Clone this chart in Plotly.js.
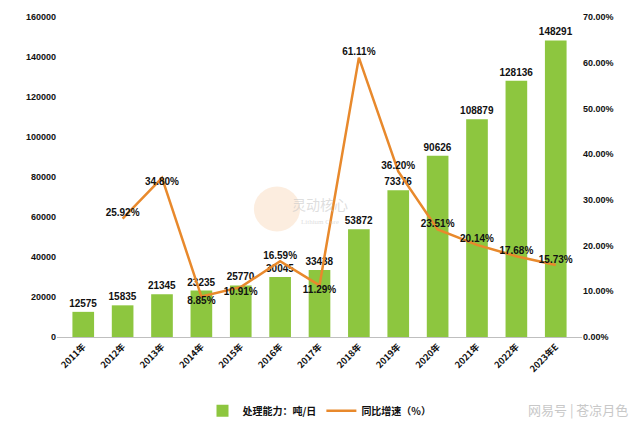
<!DOCTYPE html>
<html>
<head>
<meta charset="utf-8">
<script src="https://cdn.plot.ly/plotly-3.0.1.min.js"></script>
<style>html,body{margin:0;padding:0;background:#fff;}#chart{width:640px;height:431px;}</style>
</head>
<body>
<div id="chart"></div>
<script>
const years = ["2011年","2012年","2013年","2014年","2015年","2016年","2017年","2018年","2019年","2020年","2021年","2022年","2023年E"];
const capacity = [12575, 15835, 21345, 23235, 25770, 30045, 33438, 53872, 73376, 90626, 108879, 128136, 148291];
const growth = [null, 25.92, 34.80, 8.85, 10.91, 16.59, 11.29, 61.11, 36.20, 23.51, 20.14, 17.68, 15.73];
const growthLabelPos = ["top center","top center","bottom center","bottom center","bottom center","top center","bottom center","top center","top center","top center","top center","top center","top center"];
const leftTicks = [0, 20000, 40000, 60000, 80000, 100000, 120000, 140000, 160000];
const rightTicks = [0, 10, 20, 30, 40, 50, 60, 70];

const fam = "Liberation Sans, Arial, Noto Sans CJK SC, sans-serif";
const cjk = "Noto Sans CJK SC, Liberation Sans, sans-serif";

const bars = {
  type: 'bar', x: years, y: capacity, name: '处理能力：吨/日',
  marker: {color: '#8DC63F'}, width: 0.55,
  text: capacity.map(String), textposition: 'outside', cliponaxis: false, constraintext: 'none',
  textfont: {family: fam, size: 10, color: '#111', weight: 'bold'},
  hoverinfo: 'skip'
};
const line = {
  type: 'scatter', mode: 'lines+text', x: years, y: growth, yaxis: 'y2', name: '同比增速（%）',
  line: {color: '#E8892C', width: 2.5}, connectgaps: false,
  text: growth.map(v => v === null ? '' : v.toFixed(2) + '%'),
  textposition: growthLabelPos, cliponaxis: false,
  textfont: {family: fam, size: 10, color: '#111', weight: 'bold'},
  hoverinfo: 'skip'
};

const layout = {
  width: 640, height: 431,
  margin: {l: 57, r: 58, t: 17, b: 94, autoexpand: false},
  paper_bgcolor: '#fff', plot_bgcolor: '#fff',
  showlegend: true,
  legend: {orientation: 'h', x: 0.5, xanchor: 'center', yref: 'container', y: 0.047, yanchor: 'middle',
           font: {family: cjk, size: 10, color: '#111', weight: 'bold'}},
  bargap: 0.45,
  xaxis: {type: 'category', tickangle: -45, automargin: false, showgrid: false, showline: true, linecolor: '#BFBFBF', linewidth: 1,
          ticks: '', tickfont: {family: cjk, size: 9, color: '#111', weight: 'bold'}},
  yaxis: {range: [0, 160000], automargin: false, tickvals: leftTicks, ticktext: leftTicks.map(String), showgrid: false, zeroline: false,
          showline: false, ticks: '', tickfont: {family: fam, size: 9, color: '#111', weight: 'bold'}},
  yaxis2: {range: [0, 70], automargin: false, overlaying: 'y', side: 'right', tickvals: rightTicks, ticktext: rightTicks.map(v => v.toFixed(2) + '%'),
           showgrid: false, zeroline: false, showline: false, ticks: '',
           tickfont: {family: fam, size: 9, color: '#111', weight: 'bold'}},
  shapes: [
    {type: 'circle', xref: 'paper', yref: 'paper', layer: 'below',
     x0: 0.375, x1: 0.463, y0: 0.33, y1: 0.47, fillcolor: 'rgba(245,190,140,0.28)', line: {width: 0}}
  ],
  annotations: [
    {xref: 'paper', yref: 'paper', x: 0.5, y: 0.415, text: '灵动核心', showarrow: false,
     font: {family: cjk, size: 14, color: 'rgba(200,200,200,0.6)'}},
    {xref: 'paper', yref: 'paper', x: 0.5, y: 0.36, text: 'Lithium Core', showarrow: false,
     font: {family: 'Liberation Serif, serif', size: 7, color: 'rgba(200,200,200,0.6)'}},
    {xref: 'paper', yref: 'paper', x: 1.091, xanchor: 'right', y: -0.228, yanchor: 'middle', text: '网易号 | 苍凉月色', showarrow: false,
     font: {family: cjk, size: 13, color: '#C8C8C8'}}
  ]
};
Plotly.newPlot('chart', [bars, line], layout, {staticPlot: true, displayModeBar: false});
</script>
</body>
</html>
